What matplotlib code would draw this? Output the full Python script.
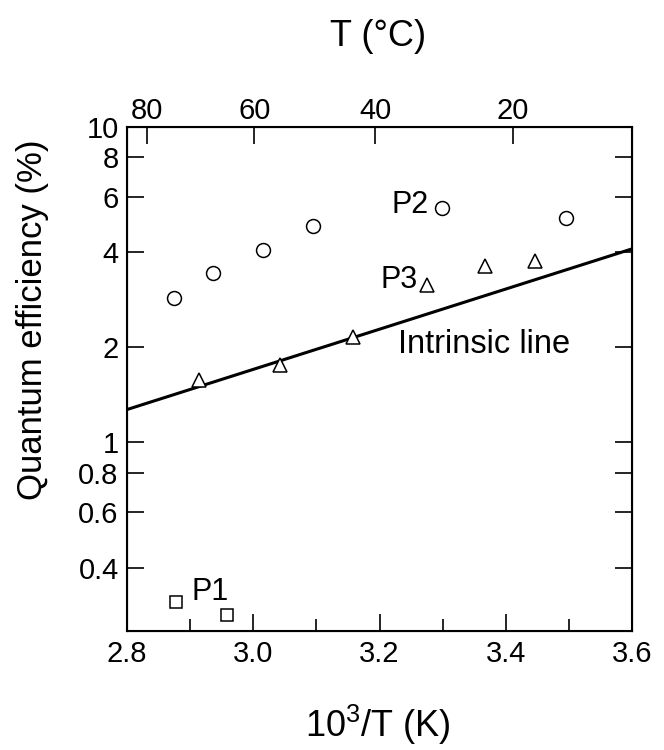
import numpy as np
import matplotlib
matplotlib.use("Agg")
from matplotlib import pyplot as plt

plt.rcParams['font.family'] = ['Liberation Sans', 'DejaVu Sans']
plt.rcParams['mathtext.fontset'] = 'custom'
plt.rcParams['mathtext.rm'] = 'Liberation Sans'

# data (x = 10^3/T in 1/K, y = quantum efficiency in %)
p2_x = [2.874, 2.936, 3.016, 3.094, 3.299, 3.495]
p2_y = [2.86, 3.43, 4.07, 4.86, 5.51, 5.15]

p3_x = [2.914, 3.042, 3.158, 3.275, 3.367, 3.447]
p3_y = [1.58, 1.76, 2.15, 3.15, 3.62, 3.75]

p1_x = [2.877, 2.958]
p1_y = [0.313, 0.284]

line_x = [2.8, 3.6]
line_y = [1.27, 4.1]

y_ticks = [0.4, 0.6, 0.8, 1, 2, 4, 6, 8, 10]
y_labels = ['0.4', '0.6', '0.8', '1', '2', '4', '6', '8', '10']
x_ticks = [2.8, 3.0, 3.2, 3.4, 3.6]
temp_ticks = [80, 60, 40, 20]


def temp_to_x(t):
    # degrees C -> 10^3/T (K)
    return 1000.0 / (np.asarray(t, dtype=float) + 273.15)


fig = plt.figure(figsize=(6.64, 7.5), dpi=100)
ax = fig.add_axes([0.1913, 0.1591, 0.7605, 0.672])

mk = dict(ls='none', mfc='white', mec='black', mew=1.1)
ax.plot(line_x, line_y, color='black', lw=2.2)
ax.plot(p2_x, p2_y, marker='o', ms=10, **mk)
ax.plot(p3_x, p3_y, marker='^', ms=10, **mk)
ax.plot(p1_x, p1_y, marker='s', ms=9, **mk)

ax.set_yscale('log')
ax.set_xlim(2.8, 3.6)
ax.set_ylim(0.253, 10)
ax.set_yticks(y_ticks)
ax.set_yticklabels(y_labels)
ax.yaxis.set_minor_locator(matplotlib.ticker.NullLocator())
ax.set_xticks(x_ticks)
ax.set_xticklabels(['%.1f' % v for v in x_ticks])
ax.set_xticks([2.9, 3.1, 3.3, 3.5], minor=True)

ax.tick_params(which='both', direction='in', top=False, right=True,
               width=1.2, labelsize=21)
ax.tick_params(which='major', length=12.5)
ax.tick_params(which='minor', length=8.5)
ax.tick_params(axis='x', pad=6.5)
ax.tick_params(axis='y', pad=6)
for s in ax.spines.values():
    s.set_linewidth(1.5)

ax2 = ax.twiny()
ax2.set_xlim(ax.get_xlim())
ax2.set_xticks(temp_to_x(temp_ticks))
ax2.set_xticklabels([str(t) for t in temp_ticks])
ax2.tick_params(direction='in', length=12.5, width=1.2, labelsize=21, pad=1.5)

ax.text(3.219, 5.32, 'P2', fontsize=22)
ax.text(3.201, 3.08, 'P3', fontsize=22)
ax.text(3.229, 1.92, 'Intrinsic line', fontsize=23.5)
ax.text(2.902, 0.316, 'P1', fontsize=22)

fig.text(33 / 664, 1 - 320 / 750, 'Quantum efficiency (%)', rotation=90,
         ha='center', va='center', fontsize=25)
fig.text(378 / 664, 1 - 725 / 750, '10$^3$/T (K)', ha='center', va='center',
         fontsize=26)
fig.text(378 / 664, 1 - 37 / 750, 'T (°C)', ha='center', va='center',
         fontsize=26)

fig.savefig('out.png', dpi=100)
